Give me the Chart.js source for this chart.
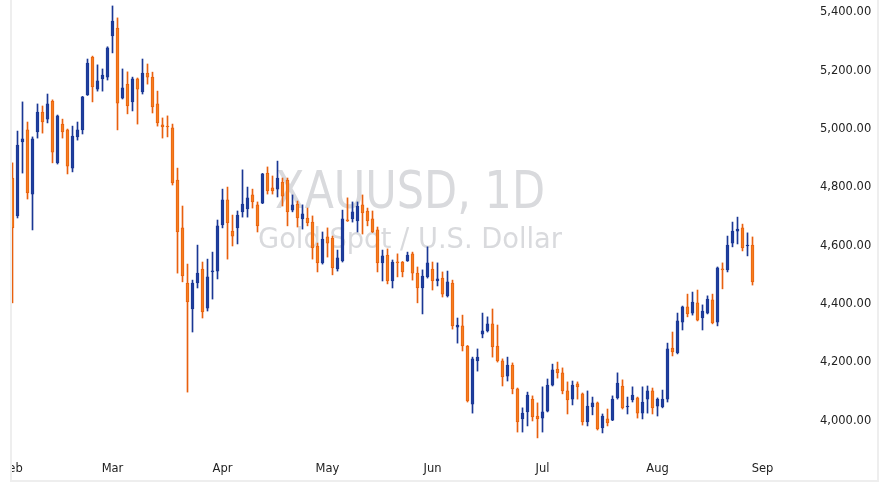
<!DOCTYPE html>
<html>
<head>
<meta charset="utf-8">
<script src="https://cdn.jsdelivr.net/npm/chart.js@4/dist/chart.umd.min.js"></script>
<style>
  html, body { margin: 0; padding: 0; background: #fff; }
  #wrap { width: 890px; height: 486px; }
</style>
</head>
<body>
<div id="wrap"><canvas id="gold" width="890" height="486"></canvas></div>
<script>
// daily candles, Feb 2 .. Aug 31 (trading days)
const opens = [4832,4702,4956,4997,4777,4990,5058,5034,5096,4884,
  5017,4997,4866,4973,4997,5117,5247,5137,5172,5178,
  5319,5346,5106,5154,5093,5172,5127,5192,5178,5086,
  5014,5010,5004,4825,4661,4472,4383,4472,4520,4386,
  4510,4513,4671,4757,4650,4661,4716,4726,4774,4740,
  4746,4849,4798,4794,4818,4825,4722,4743,4692,4695,
  4681,4599,4541,4630,4626,4520,4548,4688,4692,4685,
  4740,4719,4692,4654,4541,4568,4479,4544,4544,4548,
  4572,4506,4455,4493,4520,4479,4489,4428,4472,4321,
  4325,4256,4057,4205,4297,4308,4332,4256,4205,4153,
  4191,4109,4006,4030,4074,4016,4009,4033,4122,4177,
  4164,4102,4074,4126,4092,3996,4047,4061,3975,4006,
  4002,4078,4119,4047,4071,4078,4026,4074,4102,4050,
  4047,4074,4249,4232,4338,4390,4369,4404,4352,4369,
  4414,4338,4520,4517,4609,4650,4661,4599,4602];
const highs = [4884,4993,5093,5024,4973,5086,5079,5120,5100,5048,
  5034,5000,5010,5024,5112,5240,5250,5220,5206,5282,
  5422,5381,5206,5196,5178,5175,5240,5223,5195,5130,
  5038,5045,5017,4866,4736,4537,4482,4602,4544,4554,
  4578,4688,4794,4801,4705,4719,4860,4801,4794,4750,
  4848,4870,4839,4890,4832,4832,4774,4753,4740,4729,
  4702,4609,4647,4661,4633,4585,4722,4764,4750,4750,
  4774,4729,4719,4664,4585,4589,4551,4572,4546,4578,
  4578,4527,4517,4596,4544,4541,4510,4513,4482,4352,
  4362,4258,4218,4246,4369,4356,4383,4328,4212,4218,
  4198,4112,4044,4098,4085,4061,4116,4143,4194,4201,
  4181,4133,4136,4133,4095,4102,4081,4064,4023,4040,
  4085,4164,4140,4081,4116,4081,4116,4119,4112,4078,
  4105,4266,4304,4369,4393,4434,4441,4448,4397,4428,
  4434,4527,4541,4633,4681,4698,4674,4644,4630];
const lows = [4404,4695,4849,4760,4654,4969,4986,5021,4884,4880,
  4969,4846,4853,4962,4983,5115,5093,5130,5130,5168,
  5261,4997,5103,5052,5062,5017,5120,5154,5055,5010,
  4969,4973,4808,4506,4476,4098,4304,4455,4352,4376,
  4417,4486,4661,4554,4599,4606,4698,4698,4729,4647,
  4744,4777,4777,4767,4736,4668,4716,4664,4657,4668,
  4554,4510,4537,4561,4500,4513,4544,4683,4681,4647,
  4640,4668,4645,4510,4479,4469,4455,4493,4493,4546,
  4482,4404,4366,4489,4448,4462,4424,4424,4314,4266,
  4239,4064,4026,4170,4284,4304,4218,4201,4119,4136,
  4092,3961,3961,3982,3999,3941,3961,4030,4119,4146,
  4092,4023,4054,4074,3985,3982,4020,3968,3958,3982,
  4000,4074,4040,4023,4064,4009,4006,4026,4023,4016,
  4044,4064,4222,4229,4311,4356,4362,4342,4311,4366,
  4332,4325,4452,4510,4596,4606,4582,4565,4465];
const closes = [4661,4945,4966,4781,4966,5058,5024,5086,4921,5045,
  4990,4873,4976,4997,5110,5226,5144,5165,5185,5278,
  5370,5089,5141,5079,5172,5137,5192,5178,5076,5021,
  5007,5007,4815,4647,4496,4407,4472,4506,4373,4493,
  4513,4668,4757,4678,4633,4705,4743,4764,4750,4668,
  4846,4788,4788,4832,4770,4716,4740,4695,4709,4678,
  4592,4541,4623,4609,4524,4558,4692,4685,4716,4736,
  4712,4685,4647,4541,4565,4479,4544,4541,4510,4568,
  4506,4455,4496,4541,4479,4486,4434,4476,4325,4328,
  4256,4068,4212,4218,4308,4332,4253,4205,4150,4191,
  4109,3996,4026,4088,4013,4006,4030,4122,4174,4164,
  4102,4071,4122,4116,3996,4050,4061,3972,4016,3992,
  4074,4129,4044,4050,4088,4026,4064,4102,4044,4074,
  4074,4246,4236,4342,4390,4366,4407,4345,4376,4417,
  4335,4524,4517,4602,4650,4657,4592,4602,4476];

// month ticks: index of first trading day of each month
const monthNames = ["Feb","Mar","Apr","May","Jun","Jul","Aug","Sep"];
const monthStart = [0,20,42,63,84,106,129,150];
const priceTicks = [4000,4200,4400,4600,4800,5000,5200,5400];

const UP_FILL = "#1f3f9e", UP_LINE = "#1a3794";
const DN_FILL = "#f57f20", DN_LINE = "#e8600e";

const isUp = opens.map((o, i) => closes[i] >= o);

const wickData = lows.map((l, i) => ({x: i, y: [l, highs[i]]}));
const bodyData = opens.map((o, i) => ({x: i, y: [o, closes[i]]}));

const watermark = {
  id: "watermark",
  beforeDatasetsDraw(chart) {
    const ctx = chart.ctx;
    ctx.save();
    ctx.fillStyle = "#d9dadd";
    ctx.textAlign = "left";
    ctx.textBaseline = "alphabetic";
    const lines = [
      {text: "XAUUSD, 1D", size: 52, x: 275, w: 270, base: 208},
      {text: "Gold Spot / U.S. Dollar", size: 27.5, x: 258, w: 304, base: 248}
    ];
    lines.forEach(l => {
      ctx.font = l.size + "px 'DejaVu Sans'";
      const m = ctx.measureText(l.text).width;
      ctx.save();
      ctx.translate(l.x, l.base);
      ctx.scale(l.w / m, 1);
      ctx.fillText(l.text, 0, 0);
      ctx.restore();
    });
    ctx.restore();
  }
};

const frame = {
  id: "frame",
  afterDraw(chart) {
    const ctx = chart.ctx;
    ctx.save();
    ctx.fillStyle = "#fff";
    ctx.fillRect(0, 0, 10, 486);
    ctx.fillStyle = "#eeeeee";
    ctx.fillRect(10, 0, 2, 482);
    ctx.fillRect(877, 0, 2, 482);
    ctx.fillRect(10, 480, 869, 2);
    ctx.restore();
  }
};

new Chart(document.getElementById("gold").getContext("2d"), {
  type: "bar",
  data: {
    datasets: [
      {
        label: "body",
        data: bodyData,
        order: 1,
        barThickness: 3,
        minBarLength: 1,
        borderWidth: 1,
        borderSkipped: false,
        backgroundColor: isUp.map(u => u ? UP_FILL : DN_FILL),
        borderColor: isUp.map(u => u ? UP_LINE : DN_LINE),
        grouped: false
      },
      {
        label: "wick",
        data: wickData,
        order: 2,
        barThickness: 1,
        borderWidth: 0,
        backgroundColor: isUp.map(u => u ? UP_LINE : DN_LINE),
        grouped: false
      }
    ]
  },
  options: {
    responsive: false,
    animation: false,
    devicePixelRatio: 1,
    layout: { padding: 0 },
    plugins: { legend: { display: false }, tooltip: { enabled: false } },
    scales: {
      x: {
        type: "linear",
        offset: false,
        min: -2.5,
        max: 159.9,
        grid: { display: false, offset: false },
        border: { display: false },
        afterBuildTicks: s => { s.ticks = monthStart.map(v => ({value: v})); },
        afterFit: s => { s.height = 36; s.paddingLeft = 0; s.paddingRight = 0; },
        ticks: {
          autoSkip: false,
          maxRotation: 0,
          padding: 4,
          color: "#222",
          font: { family: "'DejaVu Sans'", size: 11.5 },
          callback: v => monthNames[monthStart.indexOf(v)]
        }
      },
      y: {
        position: "right",
        min: 3899.5,
        max: 5442.4,
        grid: { display: false, drawTicks: false },
        border: { display: false },
        afterBuildTicks: s => { s.ticks = priceTicks.map(v => ({value: v})); },
        afterFit: s => { s.width = 78; s.paddingTop = 0; s.paddingBottom = 0; },
        ticks: {
          padding: 8,
          color: "#222",
          font: { family: "'DejaVu Sans'", size: 11.5 },
          callback: v => v.toLocaleString("en-US", {minimumFractionDigits: 2, maximumFractionDigits: 2})
        }
      }
    }
  },
  plugins: [watermark, frame]
});
</script>
</body>
</html>
